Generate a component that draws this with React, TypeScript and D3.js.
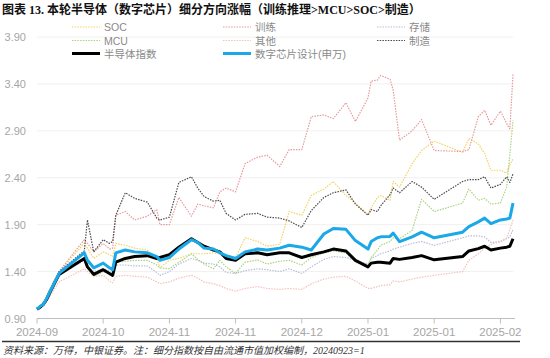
import React from "react";
import * as d3 from "d3";

const dates = [
  "2024-09-23","2024-09-24","2024-09-25","2024-09-26","2024-09-27","2024-09-30",
  "2024-10-08","2024-10-09","2024-10-11","2024-10-14","2024-10-16","2024-10-17",
  "2024-10-18","2024-10-21","2024-10-24","2024-10-28","2024-10-31","2024-11-01",
  "2024-11-04","2024-11-07","2024-11-11","2024-11-13","2024-11-15","2024-11-18",
  "2024-11-20","2024-11-22","2024-11-25","2024-11-28","2024-12-02","2024-12-05",
  "2024-12-09","2024-12-12","2024-12-16","2024-12-19","2024-12-23","2024-12-26",
  "2024-12-30","2025-01-02","2025-01-06","2025-01-07","2025-01-09","2025-01-10",
  "2025-01-13","2025-01-14","2025-01-16","2025-01-20","2025-01-23","2025-01-27",
  "2025-02-05","2025-02-07","2025-02-10","2025-02-12","2025-02-14","2025-02-17",
  "2025-02-19","2025-02-20","2025-02-21",
];

const semiIndex = [
  1.00,1.02,1.05,1.10,1.17,1.37, 1.54,1.45,1.37,1.42,1.38,1.36,
  1.50,1.54,1.56,1.57,1.54,1.55, 1.58,1.66,1.75,1.71,1.67,1.63,
  1.61,1.54,1.52,1.59,1.60,1.58, 1.60,1.60,1.55,1.58,1.61,1.64,
  1.62,1.52,1.45,1.49,1.50,1.50, 1.49,1.54,1.53,1.55,1.57,1.525,
  1.56,1.62,1.645,1.67,1.63,1.65, 1.66,1.67,1.75,
];
const digitalDesign = [
  1.00,1.03,1.05,1.11,1.18,1.38, 1.60,1.52,1.44,1.49,1.44,1.42,
  1.60,1.63,1.61,1.60,1.56,1.52, 1.55,1.64,1.74,1.71,1.65,1.64,
  1.60,1.57,1.54,1.61,1.64,1.63, 1.65,1.68,1.66,1.63,1.80,1.86,
  1.85,1.73,1.64,1.72,1.76,1.77, 1.775,1.81,1.72,1.77,1.82,1.76,
  1.82,1.88,1.93,1.97,1.91,1.95, 1.96,1.97,2.13,
];
const manufacturing = [
  1.00,1.03,1.06,1.12,1.20,1.40, 1.62,1.95,1.61,1.74,1.70,1.72,
  2.00,2.24,2.18,2.14,1.97,1.95, 1.98,2.35,2.41,2.29,2.20,2.15,
  2.16,2.02,1.95,2.01,2.02,1.98, 1.97,1.94,1.87,2.05,2.19,2.24,
  2.27,2.12,2.00,2.06,2.04,2.10, 2.22,2.29,2.24,2.36,2.30,2.17,
  2.36,2.38,2.38,2.41,2.29,2.33, 2.41,2.35,2.44,
];
const training = [
  1.00,1.03,1.05,1.10,1.18,1.40, 1.74,1.70,1.61,1.70,1.64,1.65,
  2.00,2.04,1.95,1.99,2.06,1.90, 1.90,2.19,1.99,2.12,2.10,2.08,
  2.25,2.29,2.25,2.55,2.62,2.64, 2.52,2.70,2.70,3.05,3.07,3.03,
  3.20,3.00,3.25,3.43,3.44,3.49, 3.45,3.33,2.80,2.90,3.02,2.69,
  2.68,2.70,3.05,3.12,2.96,3.11, 2.98,2.92,3.50,
];
const soc = [
  1.00,1.03,1.06,1.12,1.20,1.40, 1.70,1.65,1.54,1.61,1.58,1.56,
  1.70,1.68,1.65,1.63,1.54,1.44, 1.52,1.54,1.59,1.59,1.59,1.60,
  1.59,1.57,1.55,1.76,1.72,1.67, 1.69,2.04,2.00,2.21,2.28,2.36,
  2.21,2.13,2.01,2.08,2.19,2.21, 2.16,2.36,2.30,2.55,2.69,2.79,
  2.67,2.82,2.76,2.66,2.48,2.48, 2.45,2.54,2.60,
];
const mcu = [
  1.00,1.02,1.05,1.10,1.17,1.37, 1.53,1.45,1.35,1.40,1.37,1.35,
  1.50,1.51,1.52,1.52,1.47,1.44, 1.43,1.50,1.59,1.53,1.48,1.43,
  1.52,1.45,1.38,1.50,1.525,1.48, 1.51,1.52,1.47,1.55,1.60,1.62,
  1.60,1.50,1.46,1.55,1.63,1.68, 1.72,1.76,1.75,1.84,2.17,2.04,
  2.13,2.28,2.16,2.18,2.12,2.13, 2.30,2.65,3.01,
];
const storage = [
  1.00,1.02,1.05,1.10,1.17,1.36, 1.52,1.46,1.40,1.43,1.41,1.40,
  1.47,1.47,1.46,1.46,1.39,1.36, 1.40,1.48,1.54,1.52,1.49,1.48,
  1.45,1.39,1.38,1.41,1.43,1.42, 1.40,1.43,1.38,1.45,1.53,1.56,
  1.55,1.52,1.48,1.54,1.57,1.59, 1.62,1.64,1.66,1.70,1.72,1.68,
  1.76,1.78,1.78,1.77,1.71,1.72, 1.75,1.77,1.85,
];
const others = [
  1.00,1.02,1.04,1.08,1.13,1.29, 1.43,1.40,1.35,1.36,1.30,1.28,
  1.35,1.36,1.35,1.34,1.29,1.27, 1.29,1.33,1.36,1.33,1.29,1.27,
  1.25,1.22,1.19,1.22,1.24,1.22, 1.21,1.22,1.21,1.27,1.32,1.34,
  1.35,1.30,1.22,1.22,1.24,1.25, 1.26,1.30,1.29,1.32,1.34,1.36,
  1.40,1.52,1.59,1.65,1.69,1.72, 1.76,1.85,1.95,
];

const yTicks = [0.9, 1.4, 1.9, 2.4, 2.9, 3.4, 3.9];
const xTickDates = [
  "2024-09-23","2024-10-14","2024-11-04","2024-11-25",
  "2024-12-16","2025-01-06","2025-01-27","2025-02-17",
];
const xDomain = ["2024-09-23", "2025-02-21"];

const title = "图表 13. 本轮半导体（数字芯片）细分方向涨幅（训练推理>MCU>SOC>制造）";
const footer = "资料来源：万得，中银证券。注：细分指数按自由流通市值加权编制，20240923=1";

type S = { name: string; values: number[]; color: string; width: number; dotted: boolean; col: number; row: number };

const series: S[] = [
  { name: "SOC", values: soc, color: "#f3d266", width: 1.2, dotted: true, col: 0, row: 0 },
  { name: "训练", values: training, color: "#e79a9c", width: 1.2, dotted: true, col: 1, row: 0 },
  { name: "存储", values: storage, color: "#b7bedb", width: 1.2, dotted: true, col: 2, row: 0 },
  { name: "MCU", values: mcu, color: "#a9d47c", width: 1.2, dotted: true, col: 0, row: 1 },
  { name: "其他", values: others, color: "#f1c3bd", width: 1.2, dotted: true, col: 1, row: 1 },
  { name: "制造", values: manufacturing, color: "#4a4a4a", width: 1.2, dotted: true, col: 2, row: 1 },
  { name: "半导体指数", values: semiIndex, color: "#000000", width: 3, dotted: false, col: 0, row: 2 },
  { name: "数字芯片设计(申万)", values: digitalDesign, color: "#1aa9e6", width: 3, dotted: false, col: 1, row: 2 },
];

const parse = d3.utcParse("%Y-%m-%d");
const fmt = d3.utcFormat("%Y-%m");

export default function App() {
  const W = 550, H = 358;
  const left = 37, right = 513, top = 37, bottom = 318.5;
  const x = d3.scaleUtc().domain(xDomain.map((d) => parse(d) as Date)).range([left, right]);
  const y = d3.scaleLinear().domain([0.9, 3.9]).range([bottom, top]);
  const parsed = dates.map((d) => parse(d) as Date);
  const line = d3
    .line<number>()
    .x((_, i) => x(parsed[i]))
    .y((v) => y(v));

  const legendCols = [72, 223, 377];
  const legendRows = [27, 40.5, 53.5];
  const sansFont = "'Liberation Sans', 'Noto Sans CJK SC', sans-serif";

  return (
    <svg
      width={W}
      height={H}
      style={{ position: "absolute", left: 0, top: 0, background: "#fff" }}
    >
      <rect x={0} y={0} width={W} height={H} fill="#fff" />
      <text
        x={2}
        y={14}
        fontSize={12}
        fontWeight="bold"
        fontFamily="'Liberation Serif', 'Noto Sans CJK SC', serif"
        fill="#111"
      >
        {title}
      </text>

      {/* grid */}
      {yTicks.map((t) => (
        <g key={t}>
          {t > 0.9 && (
            <line x1={left} x2={right} y1={y(t)} y2={y(t)} stroke="#f0f0f0" strokeWidth={1} />
          )}
          <text
            x={26}
            y={y(t) + 4}
            textAnchor="end"
            fontSize={11}
            fontFamily={sansFont}
            fill="#a6a6a6"
          >
            {t.toFixed(2)}
          </text>
        </g>
      ))}

      {/* x axis */}
      <line x1={left} x2={right + 2} y1={bottom} y2={bottom} stroke="#bfbfbf" strokeWidth={1} />
      {xTickDates.map((d) => {
        const xx = x(parse(d) as Date);
        return (
          <g key={d}>
            <line x1={xx} x2={xx} y1={bottom} y2={bottom + 5} stroke="#bfbfbf" strokeWidth={1} />
            <text
              x={xx}
              y={bottom + 17.5}
              textAnchor="middle"
              fontSize={11.5}
              fontFamily={sansFont}
              fill="#a6a6a6"
            >
              {fmt(parse(d) as Date)}
            </text>
          </g>
        );
      })}

      {/* series */}
      {series.map((s) => (
        <path
          key={s.name}
          d={line(s.values) || ""}
          fill="none"
          stroke={s.color}
          strokeWidth={s.width}
          strokeDasharray={s.dotted ? "1.5 1.2" : undefined}
          strokeLinejoin="round"
        />
      ))}

      {/* legend */}
      {series.map((s) => {
        const lx = legendCols[s.col];
        const ly = legendRows[s.row];
        return (
          <g key={"lg" + s.name}>
            <line
              x1={lx}
              x2={lx + 28}
              y1={ly}
              y2={ly}
              stroke={s.color}
              strokeWidth={s.width}
              strokeDasharray={s.dotted ? "1.5 1.2" : undefined}
            />
            <text
              x={lx + 32}
              y={ly + 4}
              fontSize={10.5}
              fontFamily={sansFont}
              fill="#8a8a8a"
            >
              {s.name}
            </text>
          </g>
        );
      })}

      {/* footer */}
      <line x1={2} x2={520} y1={341.5} y2={341.5} stroke="#333" strokeWidth={1.6} />
      <text
        x={3}
        y={354}
        fontSize={10}
        fontStyle="italic"
        fontFamily="'Liberation Serif', 'Noto Sans CJK SC', serif"
        fill="#333"
      >
        {footer}
      </text>
    </svg>
  );
}
